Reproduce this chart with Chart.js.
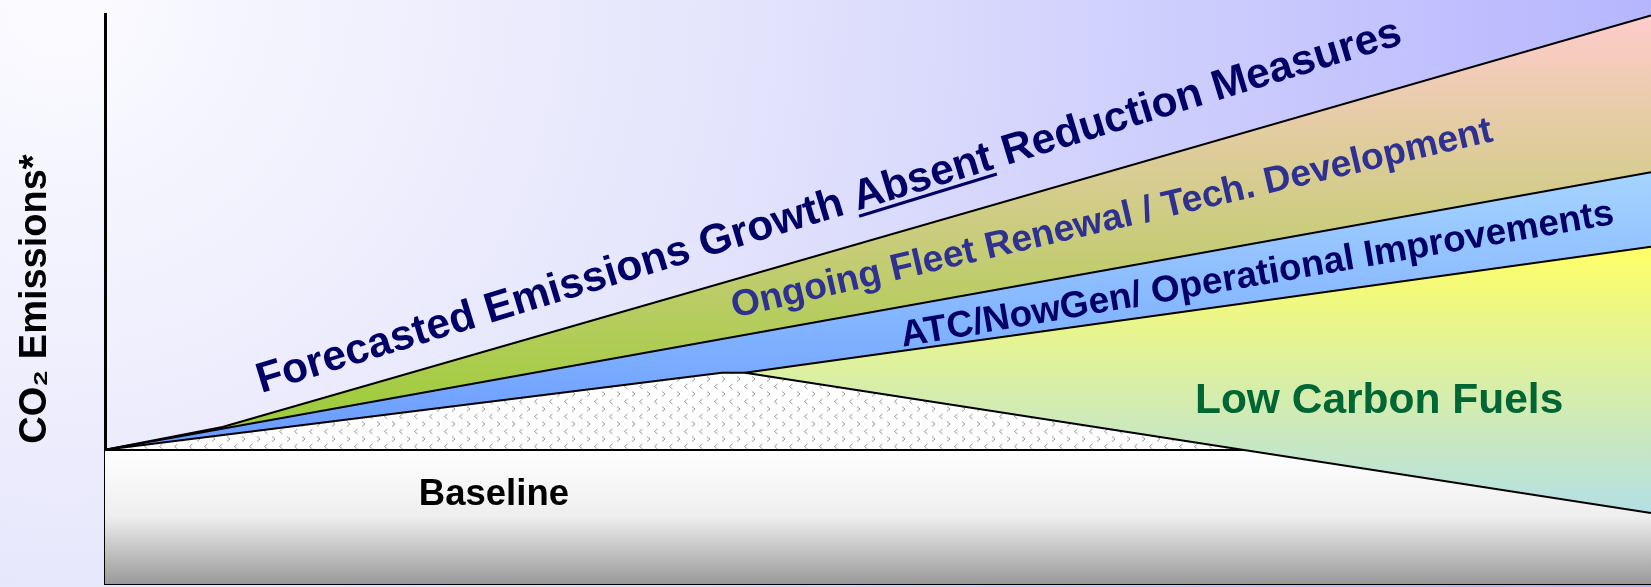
<!DOCTYPE html>
<html>
<head>
<meta charset="utf-8">
<title>CO2 emissions wedges</title>
<script src="https://cdn.jsdelivr.net/npm/chart.js@4.4.1/dist/chart.umd.min.js"></script>
<style>
  html, body { margin: 0; padding: 0; overflow: hidden; }
  #wrap { width: 1651px; height: 587px; }
</style>
</head>
<body>
<div id="wrap"><canvas id="emissions"></canvas></div>
<script>
// x: time from today (0) to horizon (100); y: emissions index, today's level = 100
const forecastLine = [ { x: 0, y: 100 }, { x: 7.6, y: 117 }, { x: 100, y: 424 } ]
const fleetLine = [ { x: 0, y: 100 }, { x: 100, y: 307 } ]
const atcLine = [ { x: 0, y: 100 }, { x: 39.9, y: 157.5 }, { x: 41.4, y: 157.5 }, { x: 100, y: 251.5 } ]
const fuelsTop = [ { x: 41.4, y: 157.5 }, { x: 100, y: 251.5 } ]
const fuelsBottom = [ { x: 41.4, y: 157.5 }, { x: 100, y: 53 } ]
const neutralGrowth = [ { x: 0, y: 100 }, { x: 39.9, y: 157.5 }, { x: 41.4, y: 157.5 }, { x: 73.6, y: 100 } ]
const baselineEdge = [ { x: 0, y: 100 }, { x: 73.6, y: 100 } ]
const baselineArea = [ { x: 0, y: 100 }, { x: 100, y: 100 } ]

const FONT = '"Liberation Sans", Arial, sans-serif'

const wedgeLabels = [
  { text: 'Forecasted Emissions Growth Absent Reduction Measures', underline: 'Absent', x: 10.1, y: 142.5, angle: -17, size: 42.5, color: '#000066' },
  { text: 'Ongoing Fleet Renewal / Tech. Development', x: 40.7, y: 198.5, angle: -13.1, size: 37.2, color: '#2e3192' },
  { text: 'ATC/NowGen/ Operational Improvements', x: 51.6, y: 176.9, angle: -9.8, size: 37, color: '#000066' },
  { text: 'Low Carbon Fuels', x: 70.5, y: 127.6, angle: 0, size: 42.5, color: '#006633' },
  { text: 'Baseline', x: 20.3, y: 58.9, angle: 0, size: 36.5, color: '#000000' }
]

function vGradient( chart, yTop, yBottom, stops ) {
  const { ctx, chartArea, scales } = chart
  if ( !chartArea ) return null
  const g = ctx.createLinearGradient( 0, scales.y.getPixelForValue( yTop ), 0, scales.y.getPixelForValue( yBottom ) )
  stops.forEach( ( c, i ) => g.addColorStop( i / ( stops.length - 1 ), c ) )
  return g
}

let hatch = null
function hatchPattern( ctx ) {
  if ( hatch ) return hatch
  const tile = document.createElement( 'canvas' )
  tile.width = 15
  tile.height = 15
  const t = tile.getContext( '2d' )
  t.fillStyle = '#ffffff'
  t.fillRect( 0, 0, 15, 15 )
  t.strokeStyle = '#9a9a9a'
  t.lineWidth = 1
  t.beginPath(); t.moveTo( 2, 1.5 ); t.lineTo( 5, 4 ); t.lineTo( 2, 6.5 ); t.stroke()
  t.beginPath(); t.moveTo( 12.5, 9 ); t.lineTo( 9.5, 11.5 ); t.lineTo( 12.5, 14 ); t.stroke()
  hatch = ctx.createPattern( tile, 'repeat' )
  return hatch
}

const backdrop = {
  id: 'backdrop',
  beforeDraw( chart ) {
    const { ctx, width, height } = chart
    const g = ctx.createRadialGradient( 60, 0, 0, 60, 0, 1700 )
    g.addColorStop( 0, '#fbfbff' )
    g.addColorStop( 0.4, '#e4e4fc' )
    g.addColorStop( 1, '#b0b0ff' )
    ctx.save()
    ctx.fillStyle = g
    ctx.fillRect( 0, 0, width, height )
    ctx.restore()
  }
}

const labelPlugin = {
  id: 'wedgeLabels',
  afterDatasetsDraw( chart ) {
    const { ctx, scales: { x, y } } = chart
    wedgeLabels.forEach( l => {
      ctx.save()
      ctx.translate( x.getPixelForValue( l.x ), y.getPixelForValue( l.y ) )
      ctx.rotate( l.angle * Math.PI / 180 )
      ctx.font = `bold ${ l.size }px ${ FONT }`
      ctx.fillStyle = l.color
      ctx.textAlign = 'left'
      ctx.textBaseline = 'alphabetic'
      ctx.fillText( l.text, 0, 0 )
      if ( l.underline ) {
        const at = l.text.indexOf( l.underline )
        const x0 = ctx.measureText( l.text.slice( 0, at ) ).width
        const w = ctx.measureText( l.underline ).width
        ctx.fillRect( x0, l.size * 0.1, w, l.size * 0.075 )
      }
      ctx.restore()
    } )
  }
}

const line = ( label, data, extra ) => Object.assign( {
  label: label,
  data: data,
  borderColor: '#000000',
  borderWidth: 2,
  pointRadius: 0,
  tension: 0,
  fill: false
}, extra )

const data = {
  datasets: [
    line( 'Forecasted Emissions Growth', forecastLine, {
      fill: { target: 1 },
      backgroundColor: ctx => vGradient( ctx.chart, 424, 110, [ '#ffcccc', '#99cc33' ] )
    } ),
    line( 'Ongoing Fleet Renewal / Tech. Development', fleetLine, {
      fill: { target: 2 },
      backgroundColor: ctx => vGradient( ctx.chart, 307, 100, [ '#a6d4ff', '#6699ff' ] )
    } ),
    line( 'ATC/NowGen/ Operational Improvements', atcLine ),
    line( 'Low Carbon Fuels', fuelsTop, {
      borderWidth: 0,
      fill: { target: 4 },
      backgroundColor: ctx => vGradient( ctx.chart, 251.5, 53, [ '#ffff66', '#b4dfe4' ] )
    } ),
    line( 'Low Carbon Fuels (lower)', fuelsBottom ),
    line( 'Carbon neutral growth', neutralGrowth, {
      borderWidth: 0,
      fill: { target: 7 },
      backgroundColor: ctx => hatchPattern( ctx.chart.ctx )
    } ),
    line( 'Baseline', baselineEdge ),
    line( 'Baseline area', baselineArea, {
      borderWidth: 0,
      fill: 'origin',
      backgroundColor: ctx => vGradient( ctx.chart, 100, 0, [ '#ffffff', '#eeeeee', '#999999' ] )
    } )
  ]
}

const config = {
  type: 'line',
  data: data,
  options: {
    responsive: true,
    maintainAspectRatio: false,
    animation: false,
    layout: { padding: { top: 14, right: 0, bottom: 0, left: 0 } },
    plugins: {
      legend: { display: false },
      tooltip: { enabled: false },
      filler: { drawTime: 'beforeDatasetsDraw' }
    },
    scales: {
      x: {
        type: 'linear',
        min: 0,
        max: 100,
        ticks: { display: false },
        grid: { display: false },
        border: { color: '#000000', width: 2 },
        afterFit: s => { s.height = 3 }
      },
      y: {
        min: 0,
        max: 425,
        ticks: { display: false },
        grid: { display: false },
        border: { color: '#000000', width: 3 },
        title: {
          display: true,
          text: 'CO₂ Emissions*',
          color: '#000000',
          font: { family: FONT, size: 38, weight: 'bold' },
          padding: { top: 13, bottom: 0 }
        },
        afterFit: s => { s.width = 105 }
      }
    }
  },
  plugins: [ backdrop, labelPlugin ]
}

const graph = new Chart( document.getElementById( 'emissions' ), config )
</script>
</body>
</html>
